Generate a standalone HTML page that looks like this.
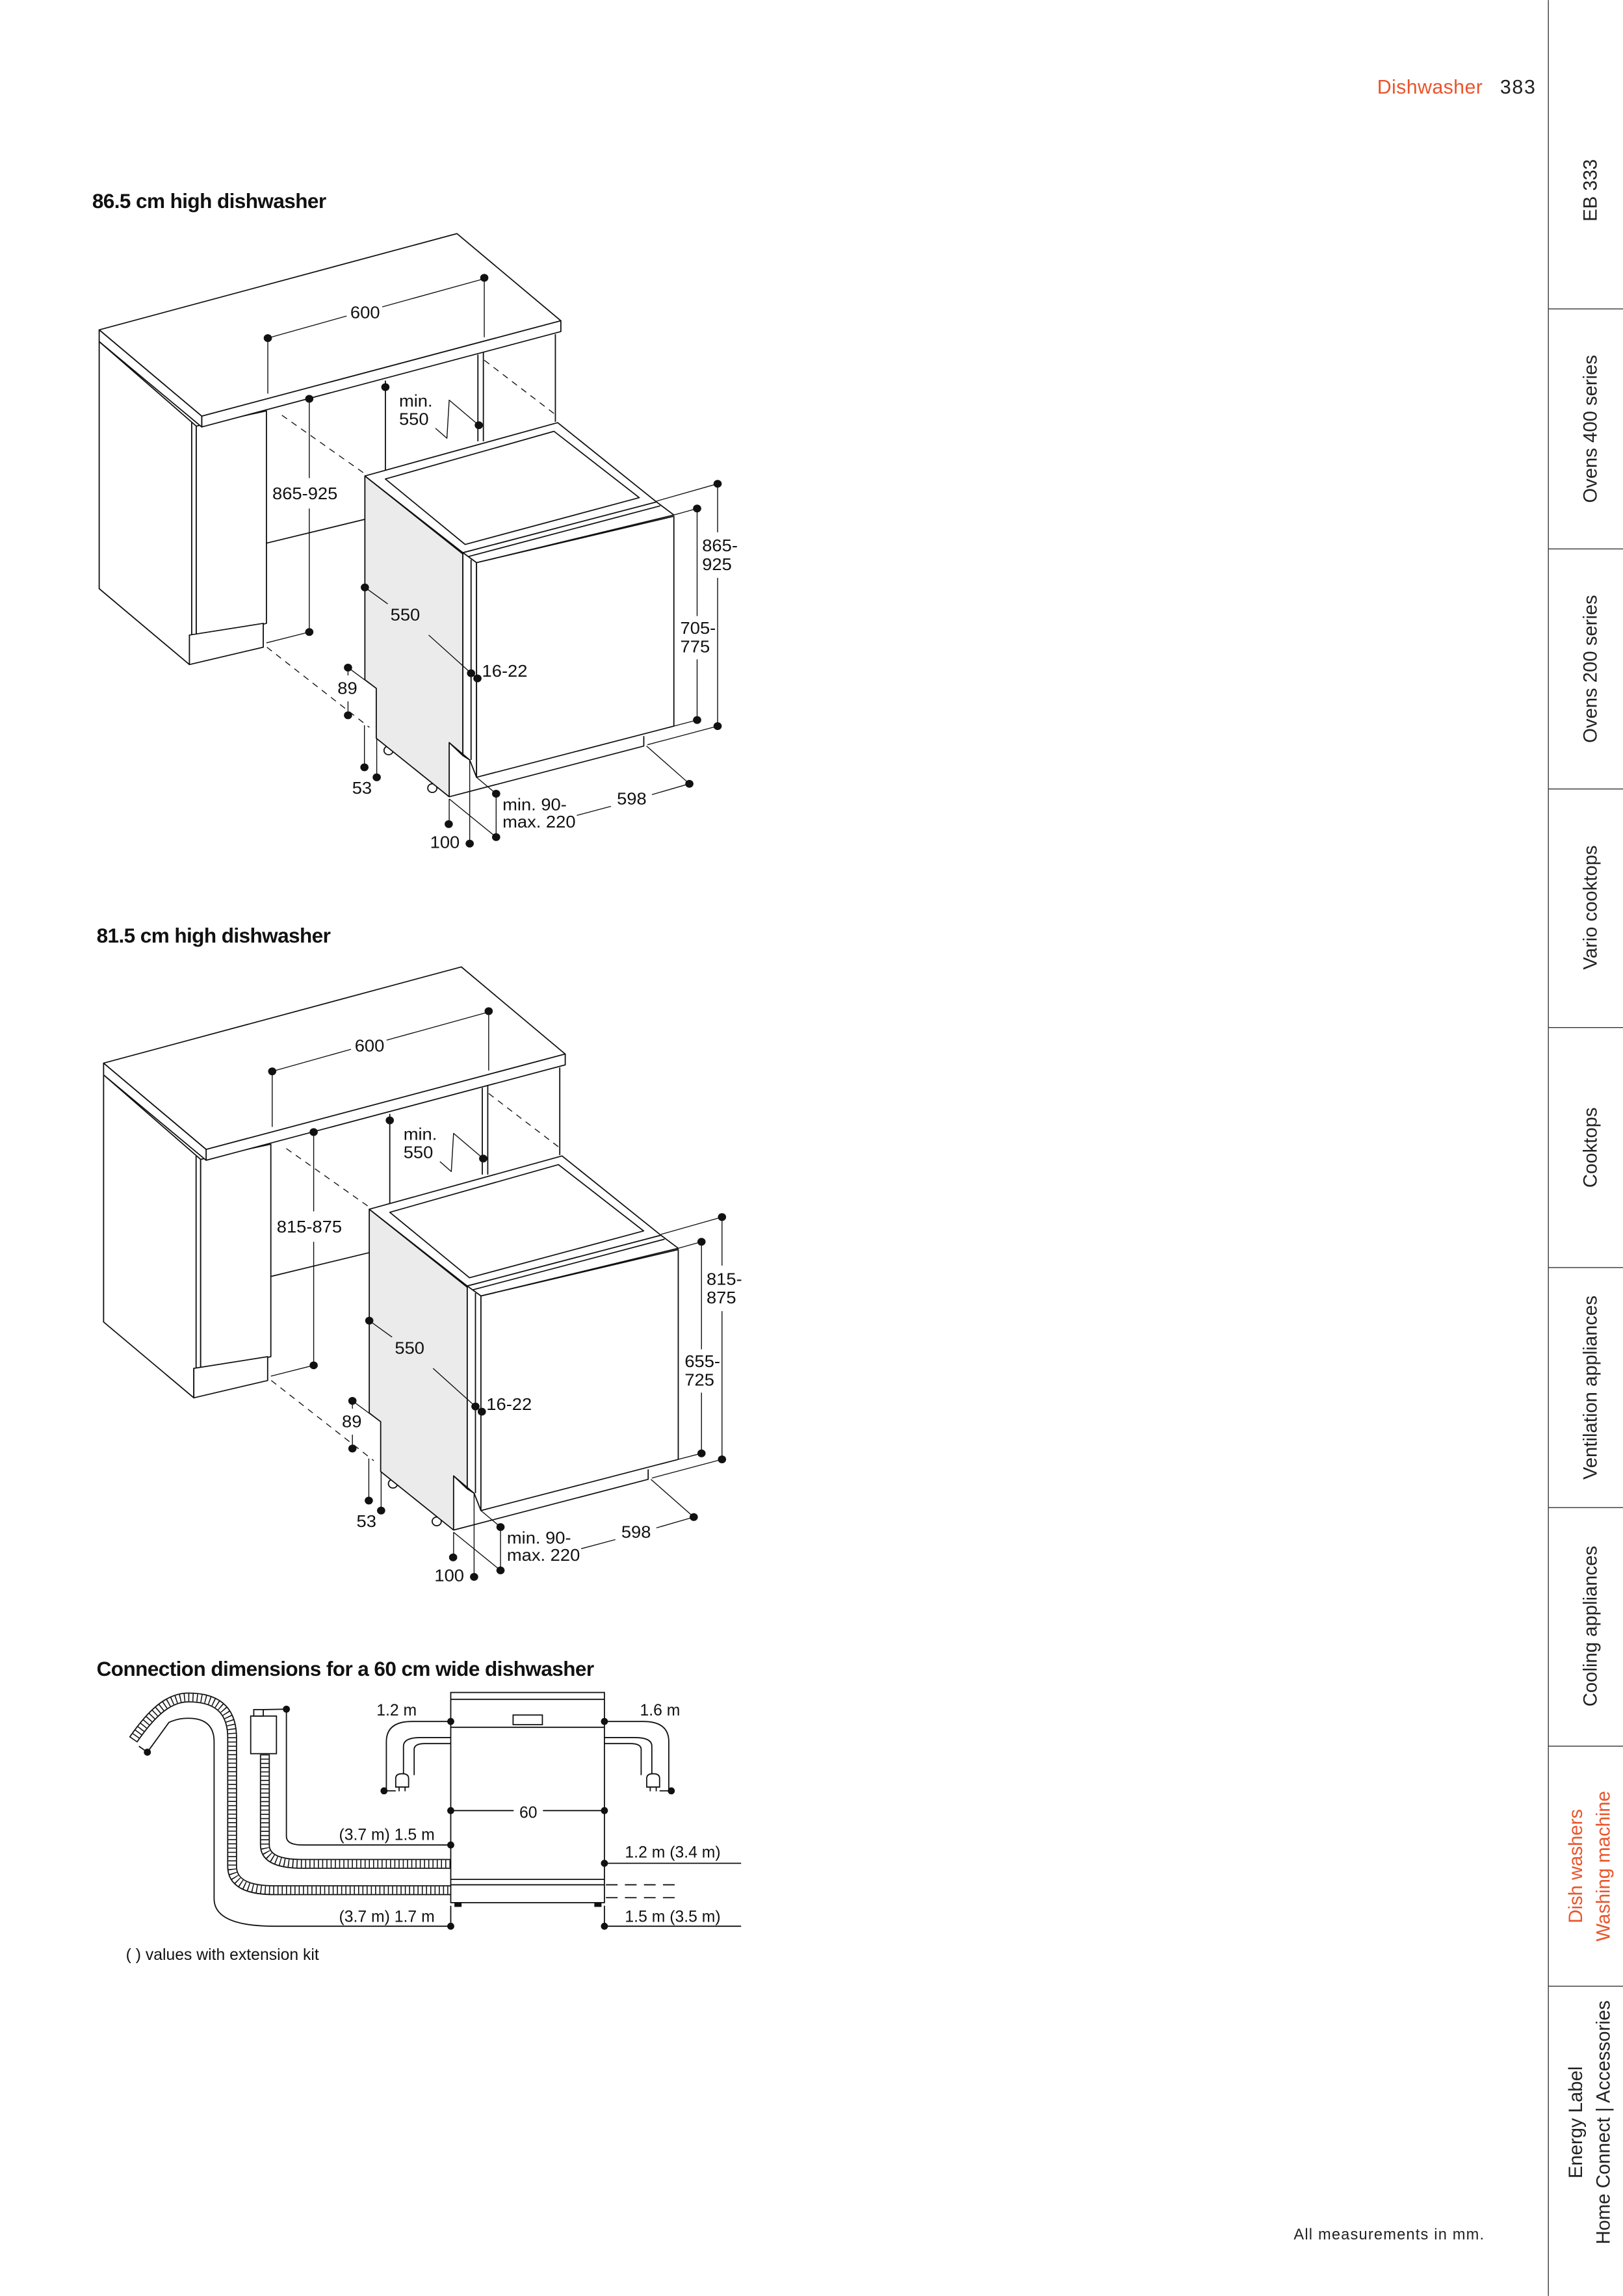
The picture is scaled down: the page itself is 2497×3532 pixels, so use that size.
<!DOCTYPE html>
<html><head><meta charset="utf-8"><style>
html,body{margin:0;padding:0;background:#fff;}
svg{display:block;font-family:"Liberation Sans",sans-serif;}
</style></head><body>
<svg width="2497" height="3532" viewBox="0 0 1109 1568.6" xmlns="http://www.w3.org/2000/svg">
<rect width="1109" height="1568.6" fill="#fff"/>
<text x="941" y="64" font-size="13.5" fill="#e9552c" textLength="72">Dishwasher</text>
<text x="1025" y="64" font-size="13.5" fill="#222" textLength="24">383</text>
<g stroke="#333" stroke-width="0.6">
<line x1="1058" y1="0" x2="1058" y2="1568.6"/>
<line x1="1058" y1="211" x2="1109" y2="211"/><line x1="1058" y1="375" x2="1109" y2="375"/>
<line x1="1058" y1="539" x2="1109" y2="539"/><line x1="1058" y1="702" x2="1109" y2="702"/>
<line x1="1058" y1="866" x2="1109" y2="866"/><line x1="1058" y1="1030" x2="1109" y2="1030"/>
<line x1="1058" y1="1193" x2="1109" y2="1193"/><line x1="1058" y1="1357" x2="1109" y2="1357"/>
</g>
<g font-size="13" fill="#222" text-anchor="middle">
<text transform="translate(1091,130) rotate(-90)">EB 333</text>
<text transform="translate(1091,293) rotate(-90)">Ovens 400 series</text>
<text transform="translate(1091,457) rotate(-90)">Ovens 200 series</text>
<text transform="translate(1091,620) rotate(-90)">Vario cooktops</text>
<text transform="translate(1091,784) rotate(-90)">Cooktops</text>
<text transform="translate(1091,948) rotate(-90)">Ventilation appliances</text>
<text transform="translate(1091,1111) rotate(-90)">Cooling appliances</text>
<text transform="translate(1081,1275) rotate(-90)" fill="#e9552c">Dish washers</text>
<text transform="translate(1100,1275) rotate(-90)" fill="#e9552c">Washing machine</text>
<text transform="translate(1081,1450) rotate(-90)">Energy Label</text>
<text transform="translate(1100,1450) rotate(-90)">Home Connect | Accessories</text>
</g>
<text x="884" y="1530" font-size="10.5" fill="#222" textLength="130">All measurements in mm.</text>

<text x="63" y="142" font-size="14" font-weight="bold" fill="#111" textLength="160">86.5 cm high dishwasher</text>
<text x="66" y="644" font-size="14" font-weight="bold" fill="#111" textLength="160">81.5 cm high dishwasher</text>
<text x="66" y="1145" font-size="14" font-weight="bold" fill="#111" textLength="340">Connection dimensions for a 60 cm wide dishwasher</text>

<defs>
<g id="cab" stroke="#111" stroke-width="2.6" stroke-linejoin="round">
 <line x1="1078" y1="318" x2="1078" y2="520"/>
 <line x1="908" y1="365" x2="908" y2="565"/>
 <line x1="920" y1="360" x2="920" y2="565"/>
 <line x1="705" y1="425" x2="705" y2="640"/>
 <line x1="444" y1="800" x2="660" y2="745"/>
 <g stroke-dasharray="14 12" stroke-width="2">
  <line x1="478" y1="505" x2="660" y2="640"/>
  <line x1="922" y1="378" x2="1080" y2="505"/>
  <line x1="445" y1="1040" x2="670" y2="1225"/>
 </g>
 <polygon points="77,335 290,530 290,1025 275,1012 275,1080 77,905" fill="#fff"/>
 <polygon points="290,530 444,495 444,985 290,1025" fill="#fff"/>
 <line x1="280" y1="522" x2="280" y2="1015"/>
 <polygon points="275,1012 437,985 437,1040 275,1080" fill="#fff"/>
 <polygon points="77,308 862,86 1090,287 302,507" fill="#fff"/>
 <polygon points="302,507 1090,287 1090,312 302,532" fill="#fff"/>
 <polygon points="77,308 302,507 302,532 77,335" fill="#fff"/>
 <circle cx="712" cy="1278" r="10" fill="#fff"/>
 <circle cx="808" cy="1365" r="10" fill="#fff"/>
 <polygon points="660,645 875,825 875,1290 845,1260 845,1385 685,1250 685,1135 660,1115" fill="#ebebeb"/>
 <polygon points="660,645 1083,522 1300,705 875,822" fill="#fff"/>
 <polygon points="705,652 1075,542 1262,695 880,803" fill="#fff"/>
 <polygon points="875,822 1300,705 1338,735 905,845" fill="#fff"/>
 <line x1="883" y1="832" x2="1308" y2="714"/>
 <polygon points="875,822 905,845 905,1340 890,1300 875,1290" fill="#fff"/>
 <line x1="893" y1="838" x2="893" y2="1300"/>
 <polygon points="905,845 1338,738 1338,1222 905,1340" fill="#fff"/>
 <polyline points="845,1385 1272,1268 1272,1245" fill="none"/>
 <line x1="845" y1="1260" x2="890" y2="1300"/>
 <g stroke-width="2" fill="none">
  <polyline points="447,455 447,327 620,276"/><line x1="698" y1="255" x2="922" y2="190"/><line x1="922" y1="188" x2="922" y2="325"/>
  <line x1="538" y1="467" x2="538" y2="650"/><line x1="538" y1="720" x2="538" y2="1005"/><line x1="444" y1="1030" x2="538" y2="1005"/>
  <polyline points="910,528 845,470 840,558 815,535"/>
  <line x1="660" y1="902" x2="710" y2="940"/><line x1="800" y1="1012" x2="893" y2="1100"/>
  <line x1="907" y1="1112" x2="893" y2="1100"/>
  <line x1="623" y1="1087" x2="623" y2="1105"/><line x1="623" y1="1165" x2="623" y2="1197"/><line x1="623" y1="1087" x2="685" y2="1135"/>
  <line x1="659" y1="1220" x2="659" y2="1317"/><line x1="686" y1="1250" x2="686" y2="1340"/>
  <line x1="845" y1="1390" x2="845" y2="1448"/><line x1="890" y1="1300" x2="890" y2="1493"/>
  <line x1="948" y1="1378" x2="948" y2="1478"/><line x1="905" y1="1340" x2="948" y2="1378"/>
  <line x1="845" y1="1390" x2="948" y2="1478"/>
  <line x1="1125" y1="1428" x2="1200" y2="1407"/><line x1="1290" y1="1380" x2="1372" y2="1355"/><line x1="1278" y1="1268" x2="1372" y2="1355"/>
  <line x1="1300" y1="703" x2="1434" y2="663"/><line x1="1280" y1="1265" x2="1434" y2="1222"/>
  <line x1="1434" y1="663" x2="1434" y2="775"/><line x1="1434" y1="880" x2="1434" y2="1222"/>
  <line x1="1338" y1="735" x2="1389" y2="720"/><line x1="1338" y1="1222" x2="1389" y2="1208"/>
  <line x1="1389" y1="720" x2="1389" y2="968"/><line x1="1389" y1="1068" x2="1389" y2="1208"/>
 </g>
 <g fill="#111" stroke="none">
  <circle cx="447" cy="327" r="9"/><circle cx="922" cy="188" r="9"/>
  <circle cx="538" cy="467" r="9"/><circle cx="538" cy="1005" r="9"/>
  <circle cx="705" cy="440" r="9"/><circle cx="910" cy="528" r="9"/>
  <circle cx="660" cy="902" r="9"/><circle cx="893" cy="1100" r="9"/><circle cx="907" cy="1112" r="9"/>
  <circle cx="623" cy="1087" r="9"/><circle cx="623" cy="1197" r="9"/>
  <circle cx="659" cy="1317" r="9"/><circle cx="686" cy="1340" r="9"/>
  <circle cx="844" cy="1448" r="9"/><circle cx="890" cy="1493" r="9"/>
  <circle cx="948" cy="1378" r="9"/><circle cx="948" cy="1478" r="9"/>
  <circle cx="1372" cy="1355" r="9"/>
  <circle cx="1434" cy="663" r="9"/><circle cx="1434" cy="1222" r="9"/>
  <circle cx="1389" cy="720" r="9"/><circle cx="1389" cy="1208" r="9"/>
 </g>
 <g fill="#111" stroke="none" font-size="39">
  <text x="628" y="281">600</text>
  <text x="735" y="485">min.</text><text x="735" y="527">550</text>
  <text x="716" y="978">550</text>
  <text x="917" y="1108">16-22</text>
  <text x="600" y="1148">89</text>
  <text x="632" y="1378">53</text>
  <text x="803" y="1503">100</text>
  <text x="962" y="1416">min. 90-</text><text x="962" y="1456">max. 220</text>
  <text x="1213" y="1403">598</text>
 </g>
</g>
</defs>

<g transform="translate(43.8,134.1) scale(0.3114,0.2962)">
 <use href="#cab"/>
 <g fill="#111" font-size="39">
  <text x="457" y="699">865-925</text>
  <text x="1400" y="819">865-</text><text x="1400" y="862">925</text>
  <text x="1352" y="1009">705-</text><text x="1352" y="1052">775</text>
 </g>
</g>
<g transform="translate(46.8,635.1) scale(0.3114,0.2962)">
 <use href="#cab"/>
 <g fill="#111" font-size="39">
  <text x="457" y="699">815-875</text>
  <text x="1400" y="819">815-</text><text x="1400" y="862">875</text>
  <text x="1352" y="1009">655-</text><text x="1352" y="1052">725</text>
 </g>
</g>

<g stroke="#111" stroke-width="0.8" fill="none">
 <path d="M100.7,1197.1 L115.4,1176.8 Q121.3,1173.9 128.7,1173.9 Q146.3,1173.9 146.3,1190 V1297.2 Q146.3,1316 187.5,1316 H308"/>
 <line x1="94.9" y1="1193" x2="100.7" y2="1197.1"/>
 <path d="M91,1188.6 C102.2,1172.4 114,1159.7 128.7,1159.7 C146.3,1159.7 158.6,1166.6 158.6,1187.1 V1275.2 Q158.6,1291.4 187.5,1291.4 H308" stroke-width="6.8"/>
 <path d="M91,1188.6 C102.2,1172.4 114,1159.7 128.7,1159.7 C146.3,1159.7 158.6,1166.6 158.6,1187.1 V1275.2 Q158.6,1291.4 187.5,1291.4 H308" stroke="#fff" stroke-width="5.2"/>
 <path d="M91,1188.6 C102.2,1172.4 114,1159.7 128.7,1159.7 C146.3,1159.7 158.6,1166.6 158.6,1187.1 V1275.2 Q158.6,1291.4 187.5,1291.4 H308" stroke-width="5.2" stroke-dasharray="0.7 2.2"/>
 <path d="M181,1198.6 V1260.5 Q181,1273.4 206.6,1273.4 H308" stroke-width="6.8"/>
 <path d="M181,1198.6 V1260.5 Q181,1273.4 206.6,1273.4 H308" stroke="#fff" stroke-width="5.2"/>
 <path d="M181,1198.6 V1260.5 Q181,1273.4 206.6,1273.4 H308" stroke-width="5.2" stroke-dasharray="0.7 2.2"/>
 <rect x="171.3" y="1172.4" width="17.6" height="25.7" fill="#fff"/>
 <rect x="173.4" y="1168" width="6.5" height="4.4" fill="#fff"/>
 <line x1="179.8" y1="1168" x2="195.7" y2="1167.7"/>
 <path d="M195.7,1167.7 V1254.6 Q195.7,1260.5 206.6,1260.5 H308"/>
 <rect x="308" y="1156.3" width="105" height="143.6" fill="#fff"/>
 <line x1="308" y1="1161" x2="413" y2="1161"/>
 <line x1="308" y1="1180.1" x2="413" y2="1180.1"/>
 <line x1="308" y1="1284" x2="413" y2="1284"/>
 <line x1="308" y1="1287.7" x2="413" y2="1287.7"/>
 <rect x="350.6" y="1171.7" width="20" height="6.6"/>
 <rect x="310.9" y="1299.9" width="4.1" height="2.5" fill="#111"/>
 <rect x="406.5" y="1299.9" width="4.1" height="2.5" fill="#111"/>
 <path d="M308,1176.1 H281.5 Q264,1176.1 264,1190 V1223.5"/>
 <path d="M308,1187.1 H287.4 Q275.7,1187.1 275.7,1193 V1212.8"/>
 <path d="M308,1191.2 H290.4 Q283,1191.2 283,1195.2 V1212.8"/>
 <path d="M270.4,1220.9 V1215 Q270.4,1211.8 274.8,1211.8 Q279.2,1211.8 279.2,1215 V1220.9 Z" fill="#fff"/>
 <line x1="272.7" y1="1220.9" x2="272.7" y2="1223.8"/><line x1="276.8" y1="1220.9" x2="276.8" y2="1223.8"/><line x1="262.4" y1="1223.5" x2="270.4" y2="1223.5"/>
 <path d="M413,1176.1 H439.6 Q457,1176.1 457,1190 V1223.5"/>
 <path d="M413,1187.1 H433.7 Q445.4,1187.1 445.4,1193 V1212.8"/>
 <path d="M413,1191.2 H430.7 Q438.1,1191.2 438.1,1195.2 V1212.8"/>
 <path d="M441.9,1220.9 V1215 Q441.9,1211.8 446.3,1211.8 Q450.7,1211.8 450.7,1215 V1220.9 Z" fill="#fff"/>
 <line x1="444.3" y1="1220.9" x2="444.3" y2="1223.8"/><line x1="448.4" y1="1220.9" x2="448.4" y2="1223.8"/><line x1="450.7" y1="1223.5" x2="458.7" y2="1223.5"/>
 <line x1="308" y1="1237" x2="351" y2="1237"/><line x1="371" y1="1237" x2="413" y2="1237"/>
 <line x1="413" y1="1273" x2="506.4" y2="1273"/>
 <line x1="413" y1="1316" x2="506.4" y2="1316"/>
 <line x1="308" y1="1302" x2="308" y2="1316"/><line x1="413" y1="1302" x2="413" y2="1316"/>
 <line x1="414" y1="1287.7" x2="461" y2="1287.7" stroke-dasharray="8 5"/>
 <line x1="414" y1="1296.5" x2="461" y2="1296.5" stroke-dasharray="8 5"/>
</g>
<g fill="#111">
 <circle cx="100.7" cy="1197.1" r="2.4"/><circle cx="195.7" cy="1167.7" r="2.4"/>
 <circle cx="308" cy="1176.1" r="2.4"/><circle cx="413" cy="1176.1" r="2.4"/>
 <circle cx="262.4" cy="1223.5" r="2.4"/><circle cx="458.7" cy="1223.5" r="2.4"/>
 <circle cx="308" cy="1237" r="2.4"/><circle cx="413" cy="1237" r="2.4"/>
 <circle cx="308" cy="1260.5" r="2.4"/><circle cx="413" cy="1273" r="2.4"/>
 <circle cx="308" cy="1316" r="2.4"/><circle cx="413" cy="1316" r="2.4"/>
</g>
<g fill="#111" font-size="11">
 <text x="271" y="1172" text-anchor="middle">1.2 m</text>
 <text x="451" y="1172" text-anchor="middle">1.6 m</text>
 <text x="361" y="1242" text-anchor="middle">60</text>
 <text x="297" y="1257" text-anchor="end">(3.7 m) 1.5 m</text>
 <text x="427" y="1269">1.2 m (3.4 m)</text>
 <text x="297" y="1313" text-anchor="end">(3.7 m) 1.7 m</text>
 <text x="427" y="1313">1.5 m (3.5 m)</text>
 <text x="86" y="1339">( ) values with extension kit</text>
</g>
</svg>
</body></html>
